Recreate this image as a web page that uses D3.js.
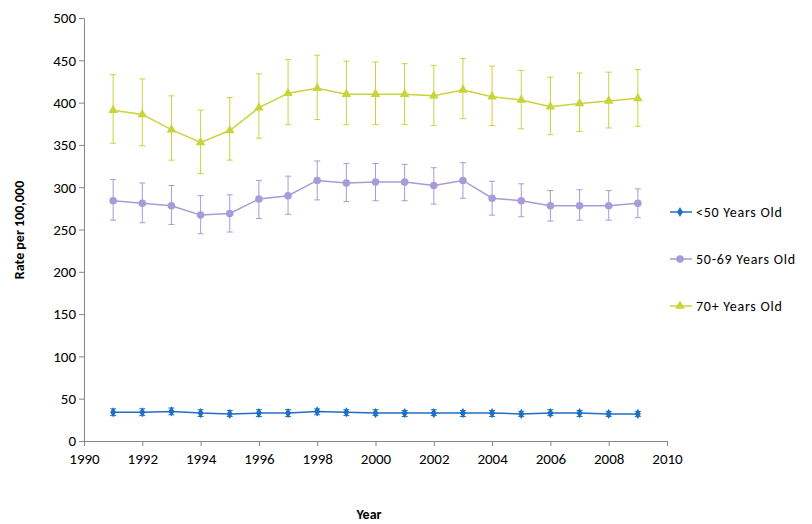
<!DOCTYPE html>
<html><head><meta charset="utf-8">
<script src="https://cdn.jsdelivr.net/npm/d3@7"></script>
<style>body{margin:0;background:#fff}text{font-family:Calibri,Carlito,"Liberation Sans",Arial,sans-serif}</style>
</head><body><svg id="chart" width="812" height="524"></svg>
<script>
var years = d3.range(1991, 2010);
var under50 = [34,34,35,33,32,33,33,35,34,33,33,33,33,33,32,33,33,32,32];
var under50Hi = [38,38,39,37,36,37,37,38,37,37,36,37,36,36,35,37,36,35,35];
var under50Lo = [30,30,31,29,29,29,29,31,30,30,29,30,29,29,29,30,29,29,29];
var mid = [284,281,278,267,269,286,290,308,305,306,306,302,308,287,284,278,278,278,281];
var midHi = [309,305,302,290,291,308,313,331,328,328,327,323,329,307,304,296,297,296,298];
var midLo = [261,258,256,245,247,263,268,285,283,284,284,280,287,267,265,260,261,261,264];
var old = [391,386,368,353,367,394,411,417,410,410,410,408,415,407,403,395,399,402,405];
var oldHi = [433,428,408,391,406,434,451,456,449,448,446,444,452,443,438,430,435,436,439];
var oldLo = [352,349,332,316,332,358,374,380,374,374,374,373,381,373,369,362,366,370,372];

var series = [
  {name:"<50 Years Old", v:under50, hi:under50Hi, lo:under50Lo, color:"#1f6fc4", shape:d3.symbolDiamond, size:30},
  {name:"50-69 Years Old", v:mid, hi:midHi, lo:midLo, color:"#a99ad8", shape:d3.symbolCircle, size:45},
  {name:"70+ Years Old", v:old, hi:oldHi, lo:oldLo, color:"#c9d43c", shape:d3.symbolTriangle, size:40}
];

var svg = d3.select("#chart");
var x = d3.scaleLinear().domain([1990, 2010]).range([84, 667]);
var y = d3.scaleLinear().domain([0, 500]).range([441, 18]);

var xAxis = svg.append("g").attr("transform","translate(0,441)")
  .call(d3.axisBottom(x).tickValues(d3.range(1990,2011,2)).tickFormat(d3.format("d")).tickSize(5));
var yAxis = svg.append("g").attr("transform","translate(84,0)")
  .call(d3.axisLeft(y).tickValues(d3.range(0,501,50)).tickSize(5));
[xAxis,yAxis].forEach(function(a){
  a.selectAll("path,line").attr("stroke","#868686");
  a.selectAll("text").attr("font-size",15).attr("fill","#000");
});
xAxis.selectAll("text").attr("dy","1em");

svg.append("text").attr("x",369).attr("y",519).attr("text-anchor","middle")
  .attr("font-size",14).attr("font-weight","bold").text("Year");
svg.append("text").attr("transform","translate(24,230) rotate(-90)").attr("text-anchor","middle")
  .attr("font-size",14).attr("font-weight","bold").text("Rate per 100,000");

var line = d3.line().x(function(d,i){return x(years[i]);}).y(function(d){return y(d);});

series.forEach(function(s, k){
  var g = svg.append("g");
  years.forEach(function(yr,i){
    g.append("line").attr("x1",x(yr)).attr("x2",x(yr)).attr("y1",y(s.hi[i])).attr("y2",y(s.lo[i])).attr("stroke",s.color);
    [s.hi[i], s.lo[i]].forEach(function(e){
      g.append("line").attr("x1",x(yr)-3).attr("x2",x(yr)+3).attr("y1",y(e)).attr("y2",y(e)).attr("stroke",s.color);
    });
  });
  g.append("path").datum(s.v).attr("d",line).attr("fill","none").attr("stroke",s.color).attr("stroke-width",1.5);
  g.selectAll(".m").data(s.v).enter().append("path")
    .attr("transform",function(d,i){return "translate("+x(years[i])+","+y(d)+")";})
    .attr("d",d3.symbol().type(s.shape).size(s.size)).attr("fill",s.color);

  var ly = 212 + k*47;
  svg.append("line").attr("x1",670).attr("x2",692).attr("y1",ly).attr("y2",ly).attr("stroke",s.color).attr("stroke-width",1.5);
  svg.append("path").attr("transform","translate(680,"+ly+")").attr("d",d3.symbol().type(s.shape).size(s.size)).attr("fill",s.color);
  svg.append("text").attr("x",696).attr("y",ly+5).attr("font-size",14).attr("textLength", s.name.length*6.6).text(s.name);
});
</script></body></html>
